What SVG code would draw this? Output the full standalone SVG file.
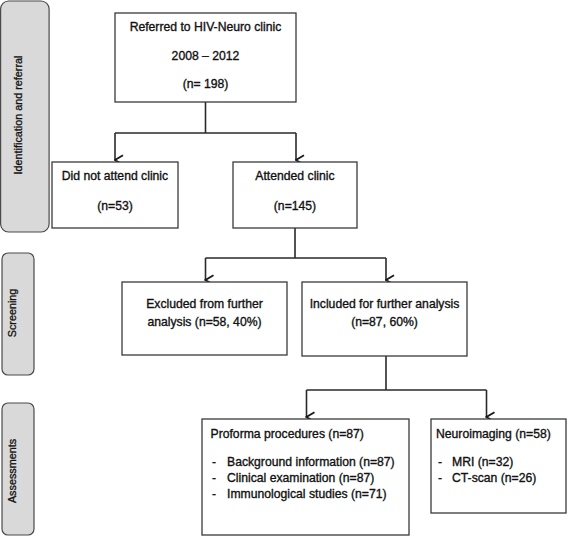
<svg xmlns="http://www.w3.org/2000/svg" width="568" height="537" viewBox="0 0 568 537">
<defs>
<style>
.bg{fill:#ffffff}
.panel{fill:#d9d9d9;stroke:#4a4a4a;stroke-width:1.2}
.box{fill:#ffffff;stroke:#3a3a3a;stroke-width:1.3}
.t{font-family:"Liberation Sans",Arial,sans-serif;font-size:12.2px;fill:#111111;stroke:#111111;stroke-width:0.35}
.c{text-anchor:middle}
.p{font-family:"Liberation Sans",Arial,sans-serif;font-size:10.8px;fill:#111111;stroke:#111111;stroke-width:0.3;text-anchor:middle}
.line{fill:none;stroke:#2a2a2a;stroke-width:1.6}
</style>
<marker id="arr" markerWidth="12" markerHeight="12" refX="6" refY="10.5" orient="auto-start-reverse" markerUnits="userSpaceOnUse" viewBox="0 0 12 12">
<path d="M1.2,2.5 L6,10.5 L10.8,2.5" fill="none" stroke="#1a1a1a" stroke-width="1.8"/>
</marker>
</defs>
<rect class="bg" x="0" y="0" width="568" height="537"/>
<g id="panel-identification">
<rect class="panel" x="0.6" y="1" width="48.5" height="231" rx="8"/>
<text class="p" transform="translate(22,115) rotate(-90)">Identification and referral</text>
</g>
<g id="panel-screening">
<rect class="panel" x="2" y="253" width="32" height="122" rx="6"/>
<text class="p" transform="translate(16,313) rotate(-90)">Screening</text>
</g>
<g id="panel-assessments">
<rect class="panel" x="2" y="403" width="32" height="132" rx="6"/>
<text class="p" transform="translate(16,471) rotate(-90)">Assessments</text>
</g>
<g id="connectors">
<path class="line" d="M205.5,102 V133 M115,133 H296"/>
<path class="line" d="M115,133 V160" marker-end="url(#arr)"/>
<path class="line" d="M296,133 V160" marker-end="url(#arr)"/>
<path class="line" d="M295,228 V258 M205.5,258 H386"/>
<path class="line" d="M205.5,258 V280" marker-end="url(#arr)"/>
<path class="line" d="M386,258 V280" marker-end="url(#arr)"/>
<path class="line" d="M386,356 V390 M306.5,390 H486.5"/>
<path class="line" d="M306.5,390 V417" marker-end="url(#arr)"/>
<path class="line" d="M486.5,390 V417" marker-end="url(#arr)"/>
</g>
<g id="node-referred">
<rect class="box" x="115" y="13" width="181" height="89"/>
<text class="t c" x="205.5" y="30.5">Referred to HIV-Neuro clinic</text>
<text class="t c" x="205.5" y="59.5">2008 – 2012</text>
<text class="t c" x="205.5" y="87.5">(n= 198)</text>
</g>
<g id="node-not-attend">
<rect class="box" x="52" y="162" width="126" height="66"/>
<text class="t c" x="115" y="180">Did not attend clinic</text>
<text class="t c" x="115" y="209.5">(n=53)</text>
</g>
<g id="node-attended">
<rect class="box" x="233" y="162" width="124" height="66"/>
<text class="t c" x="295" y="180">Attended clinic</text>
<text class="t c" x="295" y="209.5">(n=145)</text>
</g>
<g id="node-excluded">
<rect class="box" x="122" y="282" width="165" height="73"/>
<text class="t c" x="204.5" y="307.5">Excluded from further</text>
<text class="t c" x="204.5" y="326">analysis (n=58, 40%)</text>
</g>
<g id="node-included">
<rect class="box" x="302" y="282" width="165" height="74"/>
<text class="t c" x="384.5" y="307.5">Included for further analysis</text>
<text class="t c" x="384.5" y="326">(n=87, 60%)</text>
</g>
<g id="node-proforma">
<rect class="box" x="202" y="419" width="207" height="116"/>
<text class="t" x="210.5" y="437.5">Proforma procedures (n=87)</text>
<text class="t" x="212" y="466">-</text>
<text class="t" x="227" y="466">Background information (n=87)</text>
<text class="t" x="212" y="481.5">-</text>
<text class="t" x="227" y="481.5">Clinical examination (n=87)</text>
<text class="t" x="212" y="497.5">-</text>
<text class="t" x="227" y="497.5">Immunological studies (n=71)</text>
</g>
<g id="node-neuroimaging">
<rect class="box" x="431" y="419" width="135" height="94"/>
<text class="t" x="436" y="437.5">Neuroimaging (n=58)</text>
<text class="t" x="438" y="466">-</text>
<text class="t" x="452" y="466">MRI (n=32)</text>
<text class="t" x="438" y="481.5">-</text>
<text class="t" x="452" y="481.5">CT-scan (n=26)</text>
</g>
</svg>
